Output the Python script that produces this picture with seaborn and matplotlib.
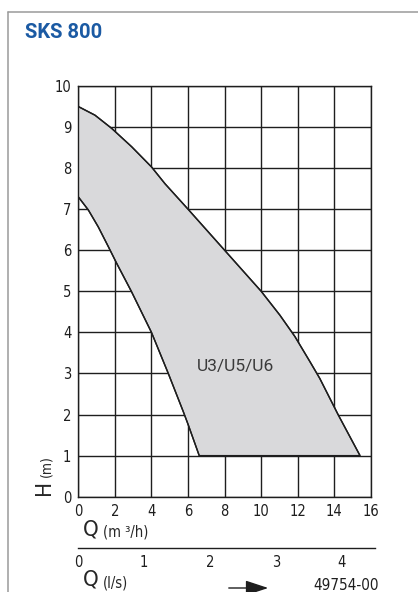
import matplotlib
matplotlib.use("Agg")
import matplotlib.pyplot as plt
import seaborn as sns
from matplotlib.lines import Line2D
from matplotlib.ticker import MultipleLocator

# Kennlinien (Q in m3/h, H in m)
q_oben = [0, 0.91, 1.82, 2.92, 4.0, 4.74, 6, 8, 10, 11.02, 11.84, 12.66, 13.2, 14.2, 15.4]
h_oben = [9.5, 9.29, 8.97, 8.52, 8.03, 7.62, 7.0, 6.0, 5.0, 4.42, 3.9, 3.29, 2.88, 2.0, 1.0]
q_unten = [0, 0.55, 1.09, 1.64, 2.1, 2.9, 4.0, 4.92, 5.74, 6.01, 6.61]
h_unten = [7.3, 6.98, 6.57, 6.09, 5.68, 5.0, 4.0, 3.0, 2.07, 1.75, 1.0]

x_ticks = [0, 2, 4, 6, 8, 10, 12, 14, 16]
y_ticks = [0, 1, 2, 3, 4, 5, 6, 7, 8, 9, 10]
ls_ticks = [0, 1, 2, 3, 4]

titel = "SKS 800"
bereich = "U3/U5/U6"
zeichnungsnr = "49754-00"

sns.set_style("white")
plt.rcParams['font.family'] = ['DejaVu Sans']
plt.rcParams['font.stretch'] = 'condensed'

W, H = 418, 592
fig = plt.figure(figsize=(W / 100, H / 100), dpi=100)

# Rahmen oben/links
fig.add_artist(Line2D([8 / W, 8 / W], [0, 1 - 12 / H], color='#9a9a9a', lw=1.1))
fig.add_artist(Line2D([8 / W, 1], [1 - 12 / H, 1 - 12 / H], color='#9a9a9a', lw=1.1))

fig.text(25 / W, 1 - 33 / H, titel, fontsize=14.5, fontweight='bold',
         color='#1b5aa3', family='Roboto', va='center', ha='left')

# Hauptdiagramm
ax = fig.add_axes([78.3 / W, 1 - 496.7 / H, (371 - 78.3) / W, (496.7 - 86) / H])
ax.set_xlim(0, 16)
ax.set_ylim(0, 10)
ax.set_xticks(x_ticks)
ax.set_yticks(y_ticks)
ax.grid(True, color='#1e1e1e', lw=1.0)
ax.set_axisbelow(True)
for s in ax.spines.values():
    s.set_color('#1e1e1e')
    s.set_linewidth(1.0)
    s.set_zorder(4)
ax.tick_params(length=0, labelsize=10.5, pad=5, colors='#1e1e1e')

poly_q = q_oben + q_unten[::-1]
poly_h = h_oben + h_unten[::-1]
ax.fill(poly_q, poly_h, facecolor='#d9d9db', edgecolor='#1e1e1e', lw=1.0, zorder=2)
sns.lineplot(x=q_oben, y=h_oben, sort=False, estimator=None, color='#1e1e1e', lw=1.0,
             ax=ax, zorder=3, solid_joinstyle='round')
sns.lineplot(x=q_unten, y=h_unten, sort=False, estimator=None, color='#1e1e1e', lw=1.0,
             ax=ax, zorder=3, solid_joinstyle='round')
ax.text(8.57, 3.17, bereich, family='Roboto', fontsize=12.5, color='#3a3a3a',
        ha='center', va='center', zorder=5)
ax.set_xlabel('')
ax.set_ylabel('')

# H (m) Beschriftung
fig.text(44 / W, 1 - 487 / H, 'H', fontsize=16, rotation=90, ha='center', va='center')
fig.text(46 / W, 1 - 466 / H, '(m)', fontsize=10, rotation=90, ha='center', va='center')

# Q (m3/h)
fig.text(83 / W, 1 - 530 / H, 'Q', fontsize=16, ha='left', va='center')
fig.text(103 / W, 1 - 532 / H, '(m ³/h)', fontsize=10.5, ha='left', va='center')

# zweite Achse in l/s
ax2 = fig.add_axes([78.3 / W, 1 - 548 / H, (374.8 - 78.3) / W, 0.0005])
ax2.set_xlim(0, 4.5)
ax2.set_ylim(0, 1)
for k in ['left', 'right', 'top']:
    ax2.spines[k].set_visible(False)
ax2.spines['bottom'].set_color('#1e1e1e')
ax2.spines['bottom'].set_linewidth(1.0)
ax2.set_yticks([])
ax2.set_xticks(ls_ticks)
ax2.xaxis.set_minor_locator(MultipleLocator(0.5))
ax2.tick_params(axis='x', which='both', direction='in', length=3, width=1.0,
                colors='#1e1e1e', labelsize=10.5, pad=5)
ax2.set_facecolor('none')

fig.text(83 / W, 1 - 580 / H, 'Q', fontsize=16, ha='left', va='center')
fig.text(103 / W, 1 - 583 / H, '(l/s)', fontsize=10.5, ha='left', va='center')

fig.add_artist(plt.Annotation('', xy=(271 / W, 1 - 588 / H), xytext=(226 / W, 1 - 588 / H),
                              xycoords='figure fraction', textcoords='figure fraction',
                              arrowprops=dict(arrowstyle='-|>,head_length=1.0,head_width=0.33',
                                              mutation_scale=14, lw=1.0, color='#1e1e1e')))
fig.text(313 / W, 1 - 586 / H, zeichnungsnr, fontsize=11, ha='left', va='center', color='#1e1e1e')

fig.savefig('out.png', dpi=100)
